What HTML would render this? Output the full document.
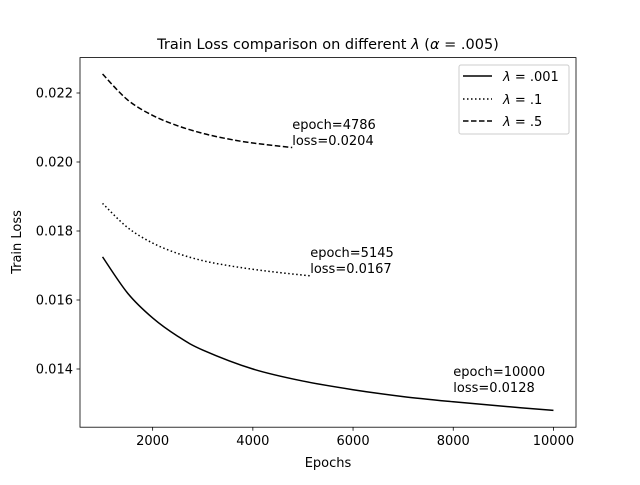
<!DOCTYPE html>
<html><head><meta charset="utf-8"><style>
body{margin:0;background:#fff;}
svg text{font-family:"DejaVu Sans","Liberation Sans",sans-serif;}
</style></head><body>
<svg id="chart" width="640" height="480" xmlns="http://www.w3.org/2000/svg">
<rect width="640" height="480" fill="#fff"/>
<text x="328" y="49" font-size="14.5" text-anchor="middle">Train Loss comparison on different <tspan font-style="italic">λ</tspan> (<tspan font-style="italic">α</tspan> = .005)</text>
<g id="plot"></g>
<rect x="80" y="57.6" width="496" height="369.6" fill="none" stroke="#000" stroke-width="0.8"/>
<text x="328" y="467" font-size="13" text-anchor="middle">Epochs</text>
<text transform="translate(21,242) rotate(-90)" font-size="13" text-anchor="middle">Train Loss</text>
<g>
<rect x="459" y="65" width="110" height="69" rx="2" fill="#fff" stroke="#ccc" stroke-width="1"/>
<line x1="463" y1="76" x2="492" y2="76" stroke="#000" stroke-width="1.5"/>
<text x="503" y="81" font-size="13"><tspan font-style="italic">λ</tspan> = .001</text>
<line x1="463" y1="99" x2="492" y2="99" stroke="#000" stroke-width="1.5" stroke-dasharray="1.5 2.5"/>
<text x="503" y="104" font-size="13"><tspan font-style="italic">λ</tspan> = .1</text>
<line x1="463" y1="121" x2="492" y2="121" stroke="#000" stroke-width="1.5" stroke-dasharray="5.5 2.5"/>
<text x="503" y="126" font-size="13"><tspan font-style="italic">λ</tspan> = .5</text>
</g>
</svg>
<script>
const xTicks=[2000,4000,6000,8000,10000];
const yTicks=[0.014,0.016,0.018,0.020,0.022];
const yTickLabels=["0.014","0.016","0.018","0.020","0.022"];
const epochsA=[1000,1500,2000,2500,3000,4000,5000,6000,7000,8000,9000,10000];
const lossA=[0.01725,0.01620,0.01548,0.01495,0.01455,0.01400,0.01365,0.01340,0.01320,0.01305,0.01292,0.01280];
const epochsB=[1000,1500,2000,2500,3000,3500,4000,4500,5145];
const lossB=[0.01880,0.01810,0.01765,0.01735,0.01714,0.01700,0.01689,0.01680,0.01670];
const epochsC=[1000,1500,2000,2500,3000,3500,4000,4786];
const lossC=[0.02255,0.02180,0.02135,0.02105,0.02083,0.02067,0.02055,0.02042];
const annEpochs=[4786,5145,10000];
const annLabels=["0.0204","0.0167","0.0128"];
const annPosX=[4786,5145,8000];
const annPosY=[0.0204,0.0167,0.01324];

const X0=550,X1=10450,Y0=0.012313,Y1=0.023026;
const px=v=>80+(v-X0)/(X1-X0)*496;
const py=v=>427.2-(v-Y0)/(Y1-Y0)*369.6;
const g=document.getElementById('plot');
const NS='http://www.w3.org/2000/svg';
function mk(t,a){const e=document.createElementNS(NS,t);for(const k in a)e.setAttribute(k,a[k]);g.appendChild(e);return e;}
xTicks.forEach(v=>{
 const l=mk('line',{x1:px(v),x2:px(v),y1:427.2,y2:430.7,stroke:'#000','stroke-width':0.8});
 
 
 const t=mk('text',{x:px(v),y:445,'font-size':13,'text-anchor':'middle'});t.textContent=v;
 
 
});
yTicks.forEach((v,i)=>{
 const l=mk('line',{x1:76.5,x2:80,y1:py(v),y2:py(v),stroke:'#000','stroke-width':0.8});
 
 
 const t=mk('text',{x:73,y:py(v)+4.5,'font-size':13,'text-anchor':'end'});t.textContent=yTickLabels[i];
 
 
});
function curve(xs,ys,dash,name){
 const p=xs.map((x,i)=>[px(x),py(ys[i])]);
 let d='M'+p[0][0]+','+p[0][1];
 for(let i=0;i<p.length-1;i++){
  const a=p[Math.max(0,i-1)],b=p[i],c=p[i+1],e=p[Math.min(p.length-1,i+2)];
  const c1=[b[0]+(c[0]-a[0])/6,b[1]+(c[1]-a[1])/6],c2=[c[0]-(e[0]-b[0])/6,c[1]-(e[1]-b[1])/6];
  d+=' C'+c1+' '+c2+' '+c;
 }
 const path=mk('path',{d:d,fill:'none',stroke:'#000','stroke-width':1.5,'stroke-dasharray':dash});
 
 
}
curve(epochsA,lossA,'none','line-lambda-001');
curve(epochsB,lossB,'1.5 2.5','line-lambda-01');
curve(epochsC,lossC,'5.5 2.5','line-lambda-05');
annEpochs.forEach((e,i)=>{
 const t=mk('text',{x:px(annPosX[i]),y:py(annPosY[i])-19,'font-size':13});t.textContent='epoch='+e;
 
 
 const t2=mk('text',{x:px(annPosX[i]),y:py(annPosY[i])-3,'font-size':13});t2.textContent='loss='+annLabels[i];
 
 
});
</script>
</body></html>
